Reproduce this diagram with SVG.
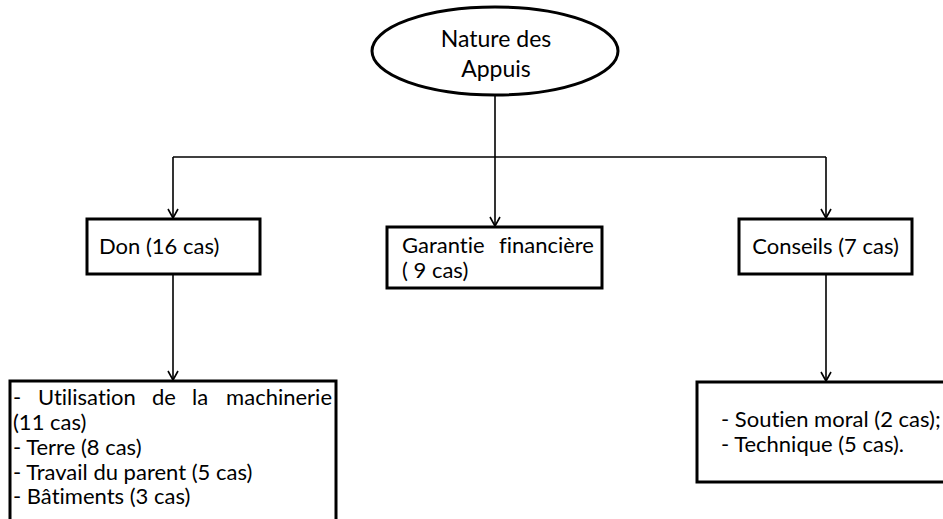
<svg xmlns="http://www.w3.org/2000/svg" width="943" height="519" viewBox="0 0 943 519">
  <style>
    .shape { fill: #ffffff; stroke: #000000; stroke-width: 3; }
    .wire { fill: none; stroke: #000000; stroke-width: 1.6; }
    .lbl { font-family: Lato, "Liberation Sans", sans-serif; font-size: 22px; fill: #000000;
           font-variant-ligatures: none; font-feature-settings: "liga" 0, "clig" 0; }
    .big { font-size: 23px; }
    .mid { text-anchor: middle; }
    .end { text-anchor: end; }
  </style>
  <defs>
    <!-- open V arrowhead used at the end of every connector -->
    <marker id="vee" markerUnits="userSpaceOnUse" markerWidth="14" markerHeight="14" viewBox="-7 -12 14 14" refX="0" refY="0" orient="auto" overflow="visible">
      <path d="M-9,-5 L0,0 L-9,5" fill="none" stroke="#000" stroke-width="1.6"/>
    </marker>
  </defs>

  <rect width="943" height="519" fill="#ffffff"/>

  <!-- connectors -->
  <g id="connectors">
    <line class="wire" x1="495" y1="95" x2="495" y2="226" marker-end="url(#vee)"/>
    <line class="wire" x1="173" y1="157" x2="826" y2="157"/>
    <line class="wire" x1="173" y1="157" x2="173" y2="218" marker-end="url(#vee)"/>
    <line class="wire" x1="826" y1="157" x2="826" y2="218" marker-end="url(#vee)"/>
    <line class="wire" x1="173" y1="274" x2="173" y2="380" marker-end="url(#vee)"/>
    <line class="wire" x1="826" y1="274" x2="826" y2="381" marker-end="url(#vee)"/>
  </g>

  <!-- root -->
  <g id="nature-des-appuis">
    <ellipse class="shape" cx="495" cy="51" rx="123" ry="44"/>
    <text class="lbl big mid" x="496" y="47">Nature des</text>
    <text class="lbl big mid" x="496" y="77">Appuis</text>
  </g>

  <g id="don">
    <rect class="shape" x="87" y="219" width="173" height="55"/>
    <text class="lbl" x="99" y="254">Don (16 cas)</text>
  </g>

  <g id="garantie">
    <rect class="shape" x="387" y="227" width="215" height="61"/>
    <text class="lbl" x="402" y="253">Garantie</text>
    <text class="lbl end" x="594" y="253">financière</text>
    <text class="lbl" x="402" y="278">( 9 cas)</text>
  </g>

  <g id="conseils">
    <rect class="shape" x="739" y="219" width="173" height="55"/>
    <text class="lbl mid" x="825.5" y="254">Conseils (7 cas)</text>
  </g>

  <g id="don-details">
    <rect class="shape" x="10" y="381" width="326" height="160"/>
    <!-- justified first line: words spread evenly across the box width -->
    <text class="lbl" x="13" y="405">-</text>
    <text class="lbl" x="38" y="405">Utilisation</text>
    <text class="lbl" x="152" y="405">de</text>
    <text class="lbl" x="192" y="405">la</text>
    <text class="lbl end" x="332" y="405">machinerie</text>
    <text class="lbl" x="13" y="430">(11 cas)</text>
    <text class="lbl" x="13" y="455">- Terre (8 cas)</text>
    <text class="lbl" x="13" y="480">- Travail du parent (5 cas)</text>
    <text class="lbl" x="13" y="504">- Bâtiments (3 cas)</text>
  </g>

  <g id="conseils-details">
    <rect class="shape" x="697" y="382" width="260" height="100"/>
    <text class="lbl" x="721" y="427">- Soutien moral (2 cas);</text>
    <text class="lbl" x="721" y="452">- Technique (5 cas).</text>
  </g>
</svg>
